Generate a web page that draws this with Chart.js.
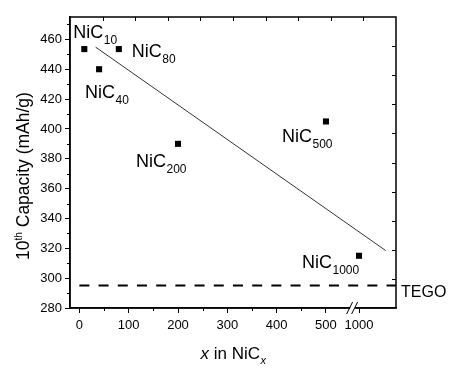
<!DOCTYPE html>
<html>
<head>
<meta charset="utf-8">
<script src="https://cdn.jsdelivr.net/npm/chart.js@4.4.0/dist/chart.umd.min.js"></script>
<style>
  body { margin: 0; background: #fff; }
  canvas { display: block; }
</style>
</head>
<body>
<canvas id="myChart" width="451" height="368"></canvas>
<script>
// data
const samples = ["10", "40", "80", "200", "500", "1000"]; // x in NiCx
const xValues = [10, 40, 80, 200, 500, 1000];
const capacity = [453.5, 440, 453.5, 390, 405, 315];
const tegoCapacity = 295;
const fitX = [33, 621]; // trend line ends, in broken-axis units
const fitY = [454.8, 318.5];
const xTickValues = [0, 100, 200, 300, 400, 500, 1000];
const xMinorValues = [50, 150, 250, 350, 450];
const yTickValues = [280, 300, 320, 340, 360, 380, 400, 420, 440, 460];
const yMinorValues = [290, 310, 330, 350, 370, 390, 410, 430, 450, 470];

// the x axis is broken between 500 and 1000
const breakPos = 553;
const pos1000 = 567;
const toAxis = x => (x >= 1000 ? pos1000 + (x - 1000) : x);

const FONT = "'Liberation Sans', Arial, sans-serif";
// label offsets from each point (text left, baseline), in px
const labelOffsets = [[-11, -11], [-14, 29], [13, 8], [-42, 23], [-44, 21], [-57, 12]];

const extras = {
  id: "extras",
  afterDatasetsDraw(chart) {
    const ctx = chart.ctx;
    const a = chart.chartArea;
    const x = chart.scales.x, y = chart.scales.y;
    const x2 = chart.scales.x2, y2 = chart.scales.y2;
    ctx.save();
    ctx.strokeStyle = "#000";
    ctx.lineWidth = 1;
    ctx.beginPath();
    xMinorValues.forEach(v => {
      const px = Math.round(x.getPixelForValue(v)) + 0.5;
      ctx.moveTo(px, a.bottom); ctx.lineTo(px, a.bottom + 3);
    });
    yMinorValues.forEach(v => {
      const py = Math.round(y.getPixelForValue(v)) + 0.5;
      ctx.moveTo(a.left - 3, py); ctx.lineTo(a.left, py);
    });
    for (let k = 1; k < 10; k++) {
      const px = Math.round(x2.getPixelForValue(k)) + 0.5;
      ctx.moveTo(px, a.top); ctx.lineTo(px, a.top + 4);
      const py = Math.round(y2.getPixelForValue(k)) + 0.5;
      ctx.moveTo(a.right - 4, py); ctx.lineTo(a.right, py);
    }
    ctx.stroke();

    // frame
    ctx.lineWidth = 1.5;
    ctx.strokeRect(a.left, a.top, a.right - a.left, a.bottom - a.top);

    // axis break marks
    const bx = x.getPixelForValue(breakPos);
    ctx.fillStyle = "#fff";
    ctx.fillRect(bx - 2, a.bottom - 2, 5, 4);
    ctx.lineWidth = 1;
    ctx.beginPath();
    [-2.5, 2.5].forEach(d => {
      ctx.moveTo(bx + d - 3, a.bottom + 6);
      ctx.lineTo(bx + d + 3, a.bottom - 6);
    });
    ctx.stroke();

    // sample labels
    ctx.fillStyle = "#000";
    ctx.textBaseline = "alphabetic";
    const meta = chart.getDatasetMeta(0);
    meta.data.forEach((pt, i) => {
      const tx = pt.x + labelOffsets[i][0];
      const ty = pt.y + labelOffsets[i][1];
      ctx.font = "18px " + FONT;
      ctx.fillText("NiC", tx, ty);
      const w = ctx.measureText("NiC").width;
      ctx.font = "12px " + FONT;
      ctx.fillText(samples[i], tx + w + 0.5, ty + 6);
    });

    // TEGO label
    ctx.font = "16px " + FONT;
    ctx.fillText("TEGO", a.right + 5, y.getPixelForValue(tegoCapacity) + 11.5);

    // x title: x in NiCx
    ctx.font = "italic 17px " + FONT;
    const p1 = "x", p2 = " in NiC";
    const w1 = ctx.measureText(p1).width;
    ctx.font = "17px " + FONT;
    const w2 = ctx.measureText(p2).width;
    ctx.font = "italic 11px " + FONT;
    const w3 = ctx.measureText("x").width;
    let sx = (a.left + a.right) / 2 - (w1 + w2 + w3) / 2;
    const by = 359;
    ctx.font = "italic 17px " + FONT;
    ctx.fillText(p1, sx, by);
    ctx.font = "17px " + FONT;
    ctx.fillText(p2, sx + w1, by);
    ctx.font = "italic 11px " + FONT;
    ctx.fillText("x", sx + w1 + w2 + 0.5, by + 5);

    // y title: 10th Capacity (mAh/g)
    ctx.translate(29, 176);
    ctx.rotate(-Math.PI / 2);
    ctx.font = "17.5px " + FONT;
    const q1 = "10", q3 = " Capacity (mAh/g)";
    const v1 = ctx.measureText(q1).width;
    const v3 = ctx.measureText(q3).width;
    ctx.font = "10px " + FONT;
    const v2 = ctx.measureText("th").width;
    let sy = -(v1 + v2 + v3) / 2;
    ctx.font = "17.5px " + FONT;
    ctx.fillText(q1, sy, 0);
    ctx.font = "10px " + FONT;
    ctx.fillText("th", sy + v1, -7);
    ctx.font = "17.5px " + FONT;
    ctx.fillText(q3, sy + v1 + v2, 0);
    ctx.restore();
  }
};

const tickFont = { family: FONT, size: 13 };

new Chart(document.getElementById("myChart").getContext("2d"), {
  type: "scatter",
  data: {
    datasets: [
      {
        label: "samples",
        data: xValues.map((v, i) => ({ x: toAxis(v), y: capacity[i] })),
        pointStyle: "rect",
        pointRadius: 4.3,
        pointBorderWidth: 0,
        backgroundColor: "#000",
        borderColor: "#000"
      },
      {
        label: "trend",
        data: fitX.map((v, i) => ({ x: v, y: fitY[i] })),
        showLine: true,
        pointRadius: 0,
        borderWidth: 1,
        borderColor: "#333"
      },
      {
        label: "TEGO",
        data: [{ x: 0, y: tegoCapacity }, { x: 642, y: tegoCapacity }],
        showLine: true,
        pointRadius: 0,
        borderWidth: 2,
        borderColor: "#000",
        borderDash: [10, 9.2]
      }
    ]
  },
  options: {
    responsive: false,
    animation: false,
    devicePixelRatio: 1,
    layout: { padding: { left: 0, top: 17, right: 55, bottom: 0 } },
    plugins: { legend: { display: false }, tooltip: { enabled: false } },
    scales: {
      x: {
        type: "linear",
        position: "bottom",
        min: -19,
        max: 642,
        afterBuildTicks: s => { s.ticks = xTickValues.map(v => ({ value: toAxis(v) })); },
        afterFit: s => { s.height = 60; },
        grid: { drawOnChartArea: false, tickLength: 5, tickColor: "#000", tickWidth: 1 },
        border: { display: true, color: "#000", width: 1.5 },
        ticks: {
          color: "#000",
          font: tickFont,
          padding: 5,
          maxRotation: 0,
          autoSkip: false,
          callback: (val, i) => String(xTickValues[i])
        }
      },
      y: {
        type: "linear",
        position: "left",
        min: 280,
        max: 475,
        afterBuildTicks: s => { s.ticks = yTickValues.map(v => ({ value: v })); },
        afterFit: s => { s.width = 70; },
        grid: { drawOnChartArea: false, tickLength: 5, tickColor: "#000", tickWidth: 1 },
        border: { display: true, color: "#000", width: 1.5 },
        ticks: { color: "#000", font: tickFont, padding: 3, autoSkip: false }
      },
      x2: { type: "linear", position: "top", min: 0, max: 10, display: false },
      y2: { type: "linear", position: "right", min: 0, max: 10, display: false }
    }
  },
  plugins: [extras]
});
</script>
</body>
</html>
